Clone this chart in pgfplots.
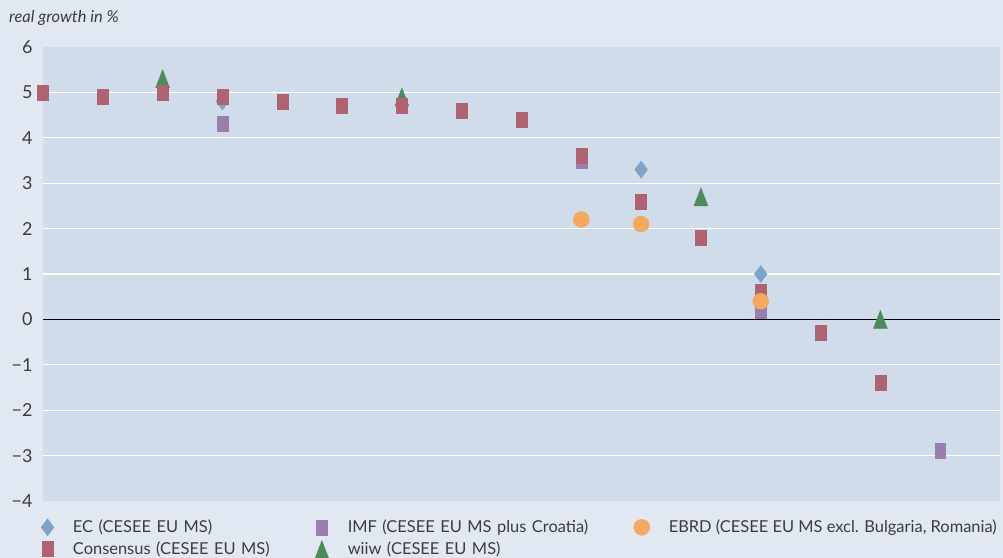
\documentclass[border=0pt]{standalone}
\usepackage{pgfplots}
\pgfplotsset{compat=1.18}
\usepackage{fontspec}
\setmainfont{Lato}
\definecolor{bgout}{RGB}{226,232,242}
\definecolor{bgplot}{RGB}{208,220,234}
\definecolor{cEC}{RGB}{125,163,200}
\definecolor{cCons}{RGB}{175,98,114}
\definecolor{cIMF}{RGB}{154,126,173}
\definecolor{cWIIW}{RGB}{77,138,92}
\definecolor{cEBRD}{RGB}{245,168,95}
\definecolor{txt}{RGB}{60,60,60}
\begin{document}
\begin{tikzpicture}
\useasboundingbox (0,0) rectangle (1003bp,558bp);
\fill[bgout] (0,0) rectangle (1003bp,558bp);
\node[anchor=base west, text=txt, font=\fontsize{16.5}{18}\selectfont\itshape, inner sep=0pt] at (9bp,535bp) {real growth in \%};
\begin{axis}[
  at={(43bp,57bp)}, anchor=south west,
  width=957bp, height=454bp, scale only axis,
  xmin=0, xmax=16, ymin=-4, ymax=6,
  axis background/.style={fill=bgplot},
  axis line style={draw=none},
  xtick=\empty,
  minor xtick={1,...,15},
  xminorgrids,
  ytick={-4,...,6},
  yticklabels={−4,−3,−2,−1,0,1,2,3,4,5,6},
  minor ytick={-3,...,5},
  yminorgrids,
  minor grid style={white, line width=1.1bp},
  extra y ticks={0}, extra y tick labels={},
  extra y tick style={grid=major, major grid style={black, line width=1.6bp}, major tick length=0pt},
  major tick length=0pt, minor tick length=0pt,
  tick label style={font=\fontsize{18}{20}\selectfont, text=txt},
  yticklabel style={xshift=-7bp},
  clip=false,
  legend columns=3,
  legend cell align=left,
  legend style={at={(0,0)}, anchor=north west, xshift=-2bp, yshift=-17bp,
    draw=none, fill=none, font=\fontsize{16.5}{19}\selectfont, text=txt,
    row sep=3.5bp, inner sep=0pt,
    /tikz/every odd column/.append style={column sep=17bp}},
]
% EC
\addplot[only marks, forget plot, mark=diamond*, mark size=8.5bp, mark options={draw=cEC, fill=cEC}]
  coordinates {(3,4.8) (10,3.3) (12,1.0)};
% IMF
\addplot[only marks, forget plot, mark=square*, mark size=7.5bp, mark options={draw=cIMF, fill=cIMF, xscale=0.73}]
  coordinates {(3,4.3) (9,3.5) (12,0.2) (15,-2.9)};
% wiiw
\addplot[only marks, forget plot, mark=triangle*, mark size=12bp, mark options={draw=cWIIW, fill=cWIIW, xscale=0.67, yshift=-3bp}]
  coordinates {(2,5.3) (6,4.9) (11,2.7) (14,0.0)};
% Consensus
\addplot[only marks, forget plot, mark=square*, mark size=7.5bp, mark options={draw=cCons, fill=cCons, xscale=0.73}]
  coordinates {(0,5.0) (1,4.9) (2,5.0) (3,4.9) (4,4.8) (5,4.7) (6,4.7) (7,4.6) (8,4.4) (9,3.6) (10,2.6) (11,1.8) (12,0.6) (13,-0.3) (14,-1.4)};
% EBRD
\addplot[only marks, forget plot, mark=*, mark size=8bp, mark options={draw=cEBRD, fill=cEBRD}]
  coordinates {(9,2.2) (10,2.1) (12,0.4)};
% legend
\addlegendimage{only marks, mark=diamond*, mark size=8.5bp, mark options={draw=cEC, fill=cEC}}
\addlegendentry[text width=240bp]{EC (CESEE EU MS)}
\addlegendimage{only marks, mark=square*, mark size=7.5bp, mark options={draw=cIMF, fill=cIMF, xscale=0.73}}
\addlegendentry[text width=284bp]{IMF (CESEE EU MS plus Croatia)}
\addlegendimage{only marks, mark=*, mark size=8bp, mark options={draw=cEBRD, fill=cEBRD}}
\addlegendentry{EBRD (CESEE EU MS excl. Bulgaria, Romania)}
\addlegendimage{only marks, mark=square*, mark size=7.5bp, mark options={draw=cCons, fill=cCons, xscale=0.73}}
\addlegendentry[text width=240bp]{Consensus (CESEE EU MS)}
\addlegendimage{only marks, mark=triangle*, mark size=10bp, mark options={draw=cWIIW, fill=cWIIW, xscale=0.8, yscale=1.2, yshift=-3bp}}
\addlegendentry[text width=284bp]{wiiw (CESEE EU MS)}
\end{axis}
\end{tikzpicture}
\end{document}
